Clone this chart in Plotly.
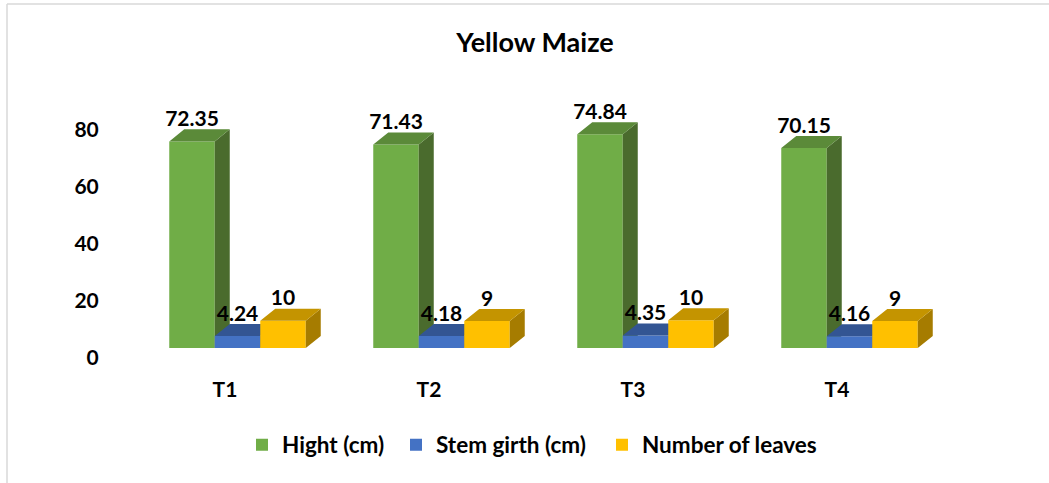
import plotly.graph_objects as go

categories = ["T1", "T2", "T3", "T4"]
hight = [72.5, 71.4, 75.0, 70.2]
stem_girth = [4.24, 4.18, 4.35, 4.16]
leaves = [9.6, 9.5, 9.7, 9.5]

hight_labels = ["72.35", "71.43", "74.84", "70.15"]
stem_labels = ["4.24", "4.18", "4.35", "4.16"]
leaves_labels = ["10", "9", "10", "9"]

W, H = 1049, 483
LEFT, RIGHT, TOP, BOTTOM = 105, 1000, 90, 358
PX_PER_CAT = 204.0
PX_PER_UNIT = 2.85
FIRST_CAT_PX = 237.5

FONT = "Lato"
BAR_W = 45.5 / PX_PER_CAT
DX = 15 / PX_PER_CAT
DY = 12 / PX_PER_UNIT
LIFT = 10 / PX_PER_UNIT  # floor of the fake 3D box sits above the 0 tick

x_range = [(LEFT - FIRST_CAT_PX) / PX_PER_CAT, (RIGHT - FIRST_CAT_PX) / PX_PER_CAT]
y_range = [0, (BOTTOM - TOP) / PX_PER_UNIT]

series = [
    ("Hight (cm)", hight, hight_labels, -BAR_W, "#70AD47", "#5B8A39", "#4A6B2D"),
    ("Stem girth (cm)", stem_girth, stem_labels, 0, "#4472C4", "#335593", "#2B4A80"),
    ("Number of leaves", leaves, leaves_labels, BAR_W, "#FFC000", "#C49400", "#A67C00"),
]


def polygon(xs, ys, color, xa, ya):
    return go.Scatter(x=xs, y=ys, mode="lines", fill="toself", fillcolor=color,
                      line=dict(width=0), showlegend=False, hoverinfo="skip",
                      xaxis=xa, yaxis=ya)


def legend_at(px):
    return dict(orientation="h", x=(px - LEFT) / (RIGHT - LEFT), xanchor="left",
                y=-(445 - BOTTOM) / (BOTTOM - TOP), yanchor="middle",
                font=dict(family=FONT, size=22.5, color="#000000", weight="bold"))


fig = go.Figure()
for n, (name, values, labels, offset, front, top, side) in enumerate(series):
    xa = "x" if n == 0 else f"x{n + 1}"
    ya = "y" if n == 0 else f"y{n + 1}"
    centers = [i + offset for i in range(len(categories))]

    fig.add_trace(go.Bar(x=centers, y=values, base=[LIFT] * len(values), width=BAR_W,
                         name=name, marker=dict(color=front, line=dict(width=0)),
                         legend="legend" if n == 0 else f"legend{n + 1}",
                         showlegend=True, xaxis=xa, yaxis=ya))

    top_x, top_y, side_x, side_y = [], [], [], []
    for c, v in zip(centers, values):
        l, r = c - BAR_W / 2, c + BAR_W / 2
        b, t = LIFT, LIFT + v
        top_x += [l, r, r + DX, l + DX, l, None]
        top_y += [t, t, t + DY, t + DY, t, None]
        side_x += [r, r + DX, r + DX, r, r, None]
        side_y += [b, b + DY, t + DY, t, b, None]
    fig.add_trace(polygon(side_x, side_y, side, xa, ya))
    fig.add_trace(polygon(top_x, top_y, top, xa, ya))

# labels go last so they stay above every face
for name, values, labels, offset, *_ in series:
    fig.add_trace(go.Scatter(
        x=[i + offset for i in range(len(categories))],
        y=[v + LIFT + DY - 0.7 for v in values],
        mode="text", text=labels, textposition="top center",
        textfont=dict(family=FONT, size=21, color="#000000", weight="bold"),
        cliponaxis=False, showlegend=False, hoverinfo="skip", xaxis="x3", yaxis="y3"))

fig.update_layout(
    width=W, height=H,
    margin=dict(l=LEFT, r=W - RIGHT, t=TOP, b=H - BOTTOM),
    paper_bgcolor="white", plot_bgcolor="rgba(0,0,0,0)",
    barmode="overlay",
    font=dict(family=FONT, size=21, color="#000000", weight="bold"),
    title=dict(text="<b>Yellow Maize</b>", x=535 / W, xanchor="center", y=1 - 43 / H,
               yanchor="middle", font=dict(family=FONT, size=27, color="#000000")),
    xaxis=dict(range=x_range, tickmode="array",
               tickvals=[i - 12.5 / PX_PER_CAT for i in range(len(categories))],
               ticktext=categories, showgrid=False, zeroline=False, showline=False,
               ticks="outside", ticklen=13, tickcolor="rgba(0,0,0,0)"),
    yaxis=dict(range=y_range, tickmode="array", tickvals=[0, 20, 40, 60, 80],
               showgrid=False, zeroline=False, showline=False,
               ticks="outside", ticklen=1, tickcolor="rgba(0,0,0,0)"),
    # separate legends so each entry can sit where the original has it
    legend=legend_at(242),
    legend2=legend_at(396),
    legend3=legend_at(602),
    shapes=[
        dict(type="line", xref="paper", yref="paper",
             x0=(7 - LEFT) / (RIGHT - LEFT), x1=(W - LEFT) / (RIGHT - LEFT),
             y0=(BOTTOM - 4) / (BOTTOM - TOP), y1=(BOTTOM - 4) / (BOTTOM - TOP),
             line=dict(color="#D9D9D9", width=1.5)),
        dict(type="line", xref="paper", yref="paper",
             x0=(7 - LEFT) / (RIGHT - LEFT), x1=(7 - LEFT) / (RIGHT - LEFT),
             y0=(BOTTOM - 4) / (BOTTOM - TOP), y1=(BOTTOM - H) / (BOTTOM - TOP),
             line=dict(color="#D9D9D9", width=1.5)),
    ],
)

# one overlaid subplot per series keeps the draw order green, blue, yellow
for n in (2, 3):
    fig.update_layout({
        f"xaxis{n}": dict(overlaying="x", range=x_range, visible=False, anchor=f"y{n}"),
        f"yaxis{n}": dict(overlaying="y", range=y_range, visible=False, anchor=f"x{n}"),
    })

fig.write_html("out.html", config={"displayModeBar": False},
               post_script="document.body.style.margin='0';")
